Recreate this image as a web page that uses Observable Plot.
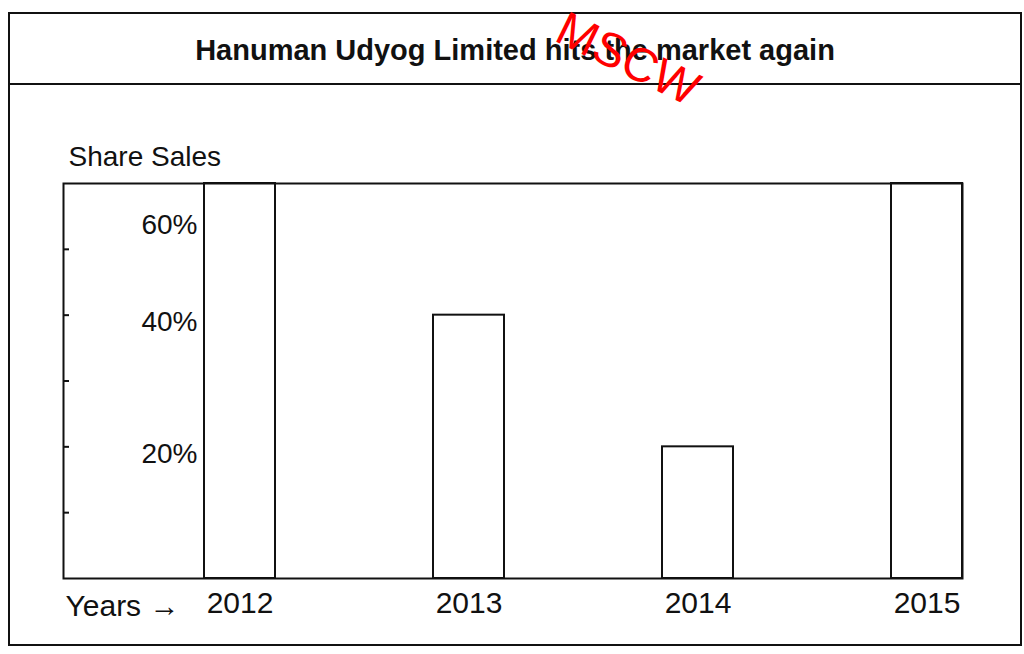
<!DOCTYPE html>
<html>
<head>
<meta charset="utf-8">
<script src="https://cdn.jsdelivr.net/npm/d3@7"></script>
<script src="https://cdn.jsdelivr.net/npm/@observablehq/plot@0.6"></script>
<style>
  html, body { margin: 0; padding: 0; background: #fff; }
  body { width: 1024px; height: 654px; position: relative; overflow: hidden; font-family: "Liberation Sans", Arial, sans-serif; color: #111; }
  #outer { position: absolute; left: 8px; top: 12px; width: 1014px; height: 634px; border: 2px solid #111; box-sizing: border-box; }
  #title { position: absolute; left: 8px; top: 12px; width: 1014px; height: 73px; border: 2px solid #111; box-sizing: border-box;
           display: flex; align-items: center; justify-content: center; font-weight: bold; font-size: 29px; padding-top: 4px; }
  #chart { position: absolute; left: 0; top: 85px; }
  #mark { position: absolute; left: 628px; top: 59px; transform: translate(-50%, -50%) rotate(26deg); color: #ff0000; font-size: 48px; line-height: 1; font-family: "Liberation Sans", Arial, sans-serif; white-space: nowrap; pointer-events: none; }
</style>
</head>
<body>
<div id="outer"></div>
<div id="title">Hanuman Udyog Limited hits the market again</div>
<div id="chart"></div>
<div id="mark">MSCW</div>
<script>
// Data
const years = ["2012", "2013", "2014", "2015"];
const shareSales = [60, 40, 20, 60];          // percent
const yTickValues = [20, 40, 60];
const yTickLabels = ["20%", "40%", "60%"];
const yMinorTicks = [10, 20, 30, 40, 50];
const yLabel = "Share Sales";
const xLabel = "Years \u2192";

const data = years.map((y, i) => ({year: y, share: shareSales[i]}));
const ticks = yTickValues.map((v, i) => ({v, label: yTickLabels[i]}));

const W = 1024, H = 569, mL = 63, mR = 62, mT = 98, mB = 76;
const plotW = W - mL - mR;

const chart = Plot.plot({
  width: W,
  height: H,
  marginLeft: mL,
  marginRight: mR,
  marginTop: mT,
  marginBottom: mB,
  style: {fontFamily: "Liberation Sans, Arial, sans-serif", color: "#111", background: "transparent", overflow: "visible"},
  x: {type: "band", domain: years, range: [204, 962], paddingInner: 0.69, paddingOuter: 0, align: 0.5},
  y: {domain: [0, 60], axis: null},
  marks: [
    Plot.barY(data, {x: "year", y: "share", fill: "white", stroke: "#111", strokeWidth: 2}),
    Plot.frame({stroke: "#111", strokeWidth: 2}),
    Plot.ruleY(yMinorTicks, {y: d => d, insetRight: plotW - 6, stroke: "#111", strokeWidth: 2}),
    Plot.text(ticks.filter(d => d.v < 60), {y: "v", text: "label", frameAnchor: "left", dx: 134, dy: 7, textAnchor: "end", fontSize: 28, fill: "#111"}),
    Plot.text(ticks.filter(d => d.v >= 60), {y: "v", text: "label", frameAnchor: "left", dx: 134, dy: 42, textAnchor: "end", fontSize: 28, fill: "#111"}),
    Plot.text([yLabel], {frameAnchor: "top-left", dx: 5, dy: -26, textAnchor: "start", lineAnchor: "middle", fontSize: 28, fill: "#111"}),
    Plot.text([xLabel], {frameAnchor: "bottom-left", dx: 2, dy: 28, textAnchor: "start", lineAnchor: "middle", fontSize: 30, fill: "#111"}),
    Plot.axisX({tickSize: 0, tickPadding: 13, fontSize: 30, label: null, fill: "#111"})
  ]
});
document.getElementById("chart").appendChild(chart);
</script>
</body>
</html>
